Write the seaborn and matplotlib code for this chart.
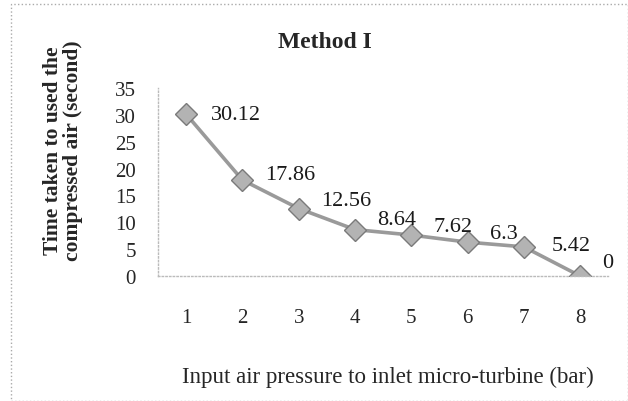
import pandas as pd
import matplotlib.pyplot as plt
import seaborn as sns
from matplotlib.patches import Rectangle

# data
pressure = [1, 2, 3, 4, 5, 6, 7, 8]
time_sec = [30.12, 17.86, 12.56, 8.64, 7.62, 6.3, 5.42, 0]
labels = ["30.12", "17.86", "12.56", "8.64", "7.62", "6.3", "5.42", "0"]

data = pd.DataFrame({"pressure": pressure, "time": time_sec})

sns.set_style("white")
plt.rcParams["font.family"] = ["Liberation Serif", "DejaVu Serif"]

fig = plt.figure(figsize=(6.28, 4.02), dpi=100)
ax = fig.add_axes([0.2516, 0.311, 0.717, 0.4677])

sns.lineplot(data=data, x="pressure", y="time", ax=ax, color="#9a9a9a",
             linewidth=2.6, marker="D", markersize=11,
             markerfacecolor="#b3b3b3", markeredgecolor="#7a7a7a",
             markeredgewidth=1)

offsets = [(18, 0), (16, 4), (16, 6), (16, 7), (16, 6), (16, 6), (20, 1), (16, 10)]
for x, y, t, off in zip(pressure, time_sec, labels, offsets):
    ax.annotate(t, (x, y), xytext=off, textcoords="offset points",
                fontsize=16, color="#1a1a1a", ha="left", va="center")

ax.set_xlim(0.5, 8.5)
ax.set_ylim(0, 35)
ax.set_yticks(range(0, 36, 5))
ax.set_xticks(pressure)
ax.tick_params(axis="x", pad=23, labelsize=15, length=0)
ax.tick_params(axis="y", pad=16, labelsize=15, length=0)

for s in ["top", "right"]:
    ax.spines[s].set_visible(False)
for s in ["left", "bottom"]:
    ax.spines[s].set_color("#bbbbbb")
    ax.spines[s].set_linestyle(":")
    ax.spines[s].set_linewidth(1)

ax.set_xlabel("")
ax.set_ylabel("")
fig.text(0.518, 0.895, "Method I", fontsize=17, fontweight="bold",
         ha="center", va="center")
fig.text(0.101, 0.625, "Time taken to used the\ncompressed air (second)",
         fontsize=15.5, fontweight="bold", rotation=90, ha="center",
         va="center", linespacing=1.0)
fig.text(0.618, 0.06, "Input air pressure to inlet micro-turbine (bar)",
         fontsize=16.5, ha="center", va="center")

fig.patches.append(Rectangle((0.017, 0.0), 0.983, 0.987, transform=fig.transFigure,
                             fill=False, edgecolor="#aaaaaa", linestyle=":",
                             linewidth=1))

plt.savefig("out.png", dpi=100)
